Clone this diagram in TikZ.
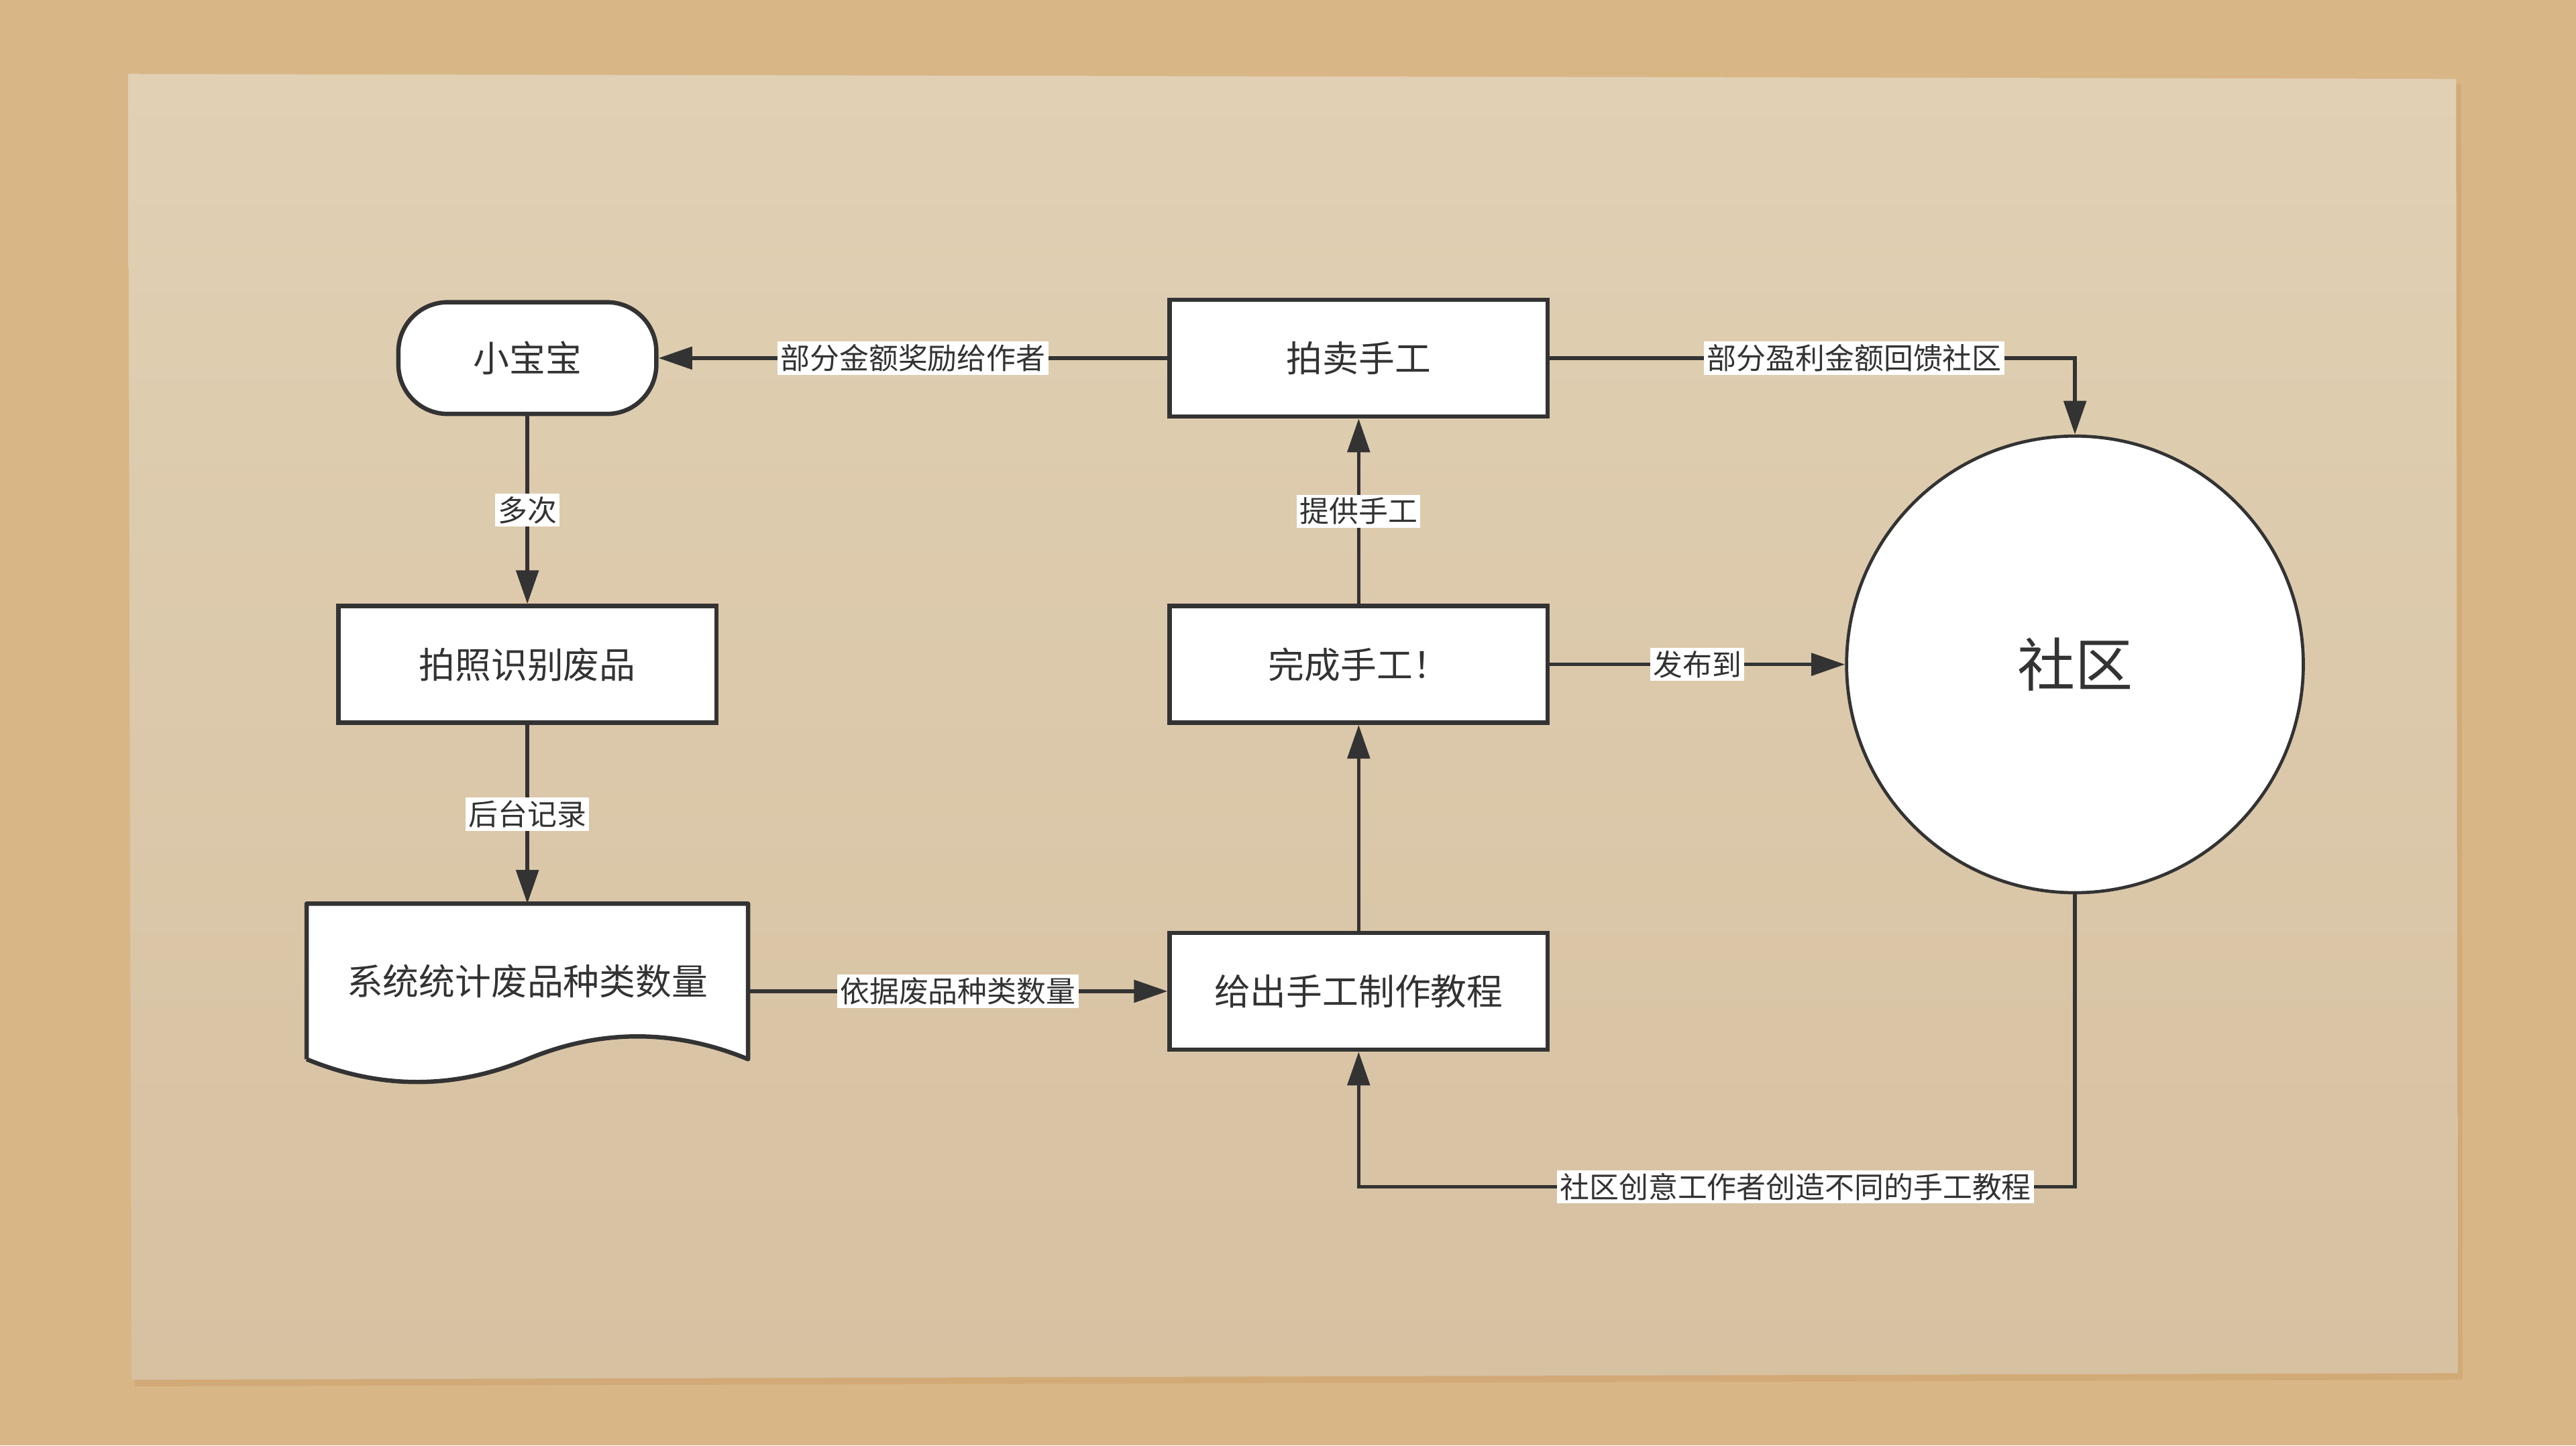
\documentclass[tikz,border=0pt]{standalone}
\usepackage{fontspec}
\setmainfont{Noto Sans CJK SC}
\usetikzlibrary{arrows.meta,positioning,calc}

\definecolor{sand}{RGB}{216,182,134}
\definecolor{paper}{RGB}{214,193,161}
\definecolor{paperlight}{RGB}{225,208,180}
\definecolor{ink}{RGB}{51,51,51}

\pgfdeclarelayer{paperlayer}
\pgfdeclarelayer{shapelayer}
\pgfsetlayers{paperlayer,shapelayer,main}

\begin{document}
\begin{tikzpicture}[on grid,
    box/.style={draw=ink,line width=1.5pt,fill=white,text=ink,
                minimum width=4.6cm,minimum height=1.42cm,
                font=\fontsize{12.5}{14}\selectfont},
    roundbox/.style={box,minimum width=3.14cm,minimum height=1.36cm,rounded corners=0.6cm},
    docbox/.style={text=ink,minimum width=5.36cm,minimum height=1.88cm,
                   font=\fontsize{12.5}{14}\selectfont},
    hub/.style={circle,draw=ink,line width=1.1pt,fill=white,text=ink,
                minimum size=5.56cm,font=\fontsize{20}{24}\selectfont},
    lbl/.style={fill=white,text=ink,inner sep=1pt,font=\fontsize{10.2}{12}\selectfont},
    flow/.style={draw=ink,line width=1.3pt,-{Triangle[length=0.41cm,width=0.27cm]}}]

  % background and paper sheet
  \begin{pgfonlayer}{paperlayer}
    \fill[sand] (0,0) rectangle (31.36,-17.60);
    \fill[brown!60!sand,opacity=0.35] (1.60,-0.96) -- (29.96,-1.02)
      -- (29.98,-16.80) -- (1.64,-16.88) -- cycle;
    \shade[top color=paperlight,bottom color=paper]
      (1.56,-0.90) -- (29.90,-0.96) -- (29.92,-16.72) -- (1.60,-16.80) -- cycle;
  \end{pgfonlayer}

  % nodes
  \node[roundbox] (baby)                        at (6.42,-4.36) {小宝宝};
  \node[box]      (photo) [below=3.73 of baby]                  {拍照识别废品};
  \node[docbox]   (stats) [below=3.86 of photo]                 {系统统计废品种类数量};
  \node[box]      (sell)  [right=10.12 of baby]                 {拍卖手工};
  \node[box]      (done)  [below=3.73 of sell]                  {完成手工！};
  \node[box]      (tut)   [below=3.98 of done]                  {给出手工制作教程};
  \node[hub]      (comm)  [right=8.72 of done]                  {社区};
  \coordinate[below=3.56 of comm.south] (back);

  % document outline with wavy bottom
  \begin{pgfonlayer}{shapelayer}
    \draw[ink,line width=1.5pt,fill=white,line join=round]
      (stats.south west) -- (stats.north west) -- (stats.north east) -- (stats.south east)
      .. controls ($(stats.south)+(1.79,0.37)$) and ($(stats.south)+(0.89,0.37)$) .. (stats.south)
      .. controls ($(stats.south)+(-0.89,-0.37)$) and ($(stats.south)+(-1.79,-0.37)$) .. (stats.south west);
  \end{pgfonlayer}

  % connectors
  \draw[flow] (sell) -- node[lbl] {部分金额奖励给作者} (baby);
  \draw[flow] (baby) -- node[lbl] {多次} (photo);
  \draw[flow] (photo) -- node[lbl] {后台记录} (stats);
  \draw[flow] (stats.east |- tut.west) -- node[lbl] {依据废品种类数量} (tut.west);
  \draw[flow] (tut) -- (done);
  \draw[flow] (done) -- node[lbl] {提供手工} (sell);
  \draw[flow] (done) -- node[lbl] {发布到} (comm);
  \draw[flow] (sell.east) -| node[lbl,pos=0.29] {部分盈利金额回馈社区} (comm.north);
  \draw[flow] (comm.south) -- (back)
    -- node[lbl,pos=0.39] {社区创意工作者创造不同的手工教程} (back -| tut.south) -- (tut.south);
\end{tikzpicture}
\end{document}
